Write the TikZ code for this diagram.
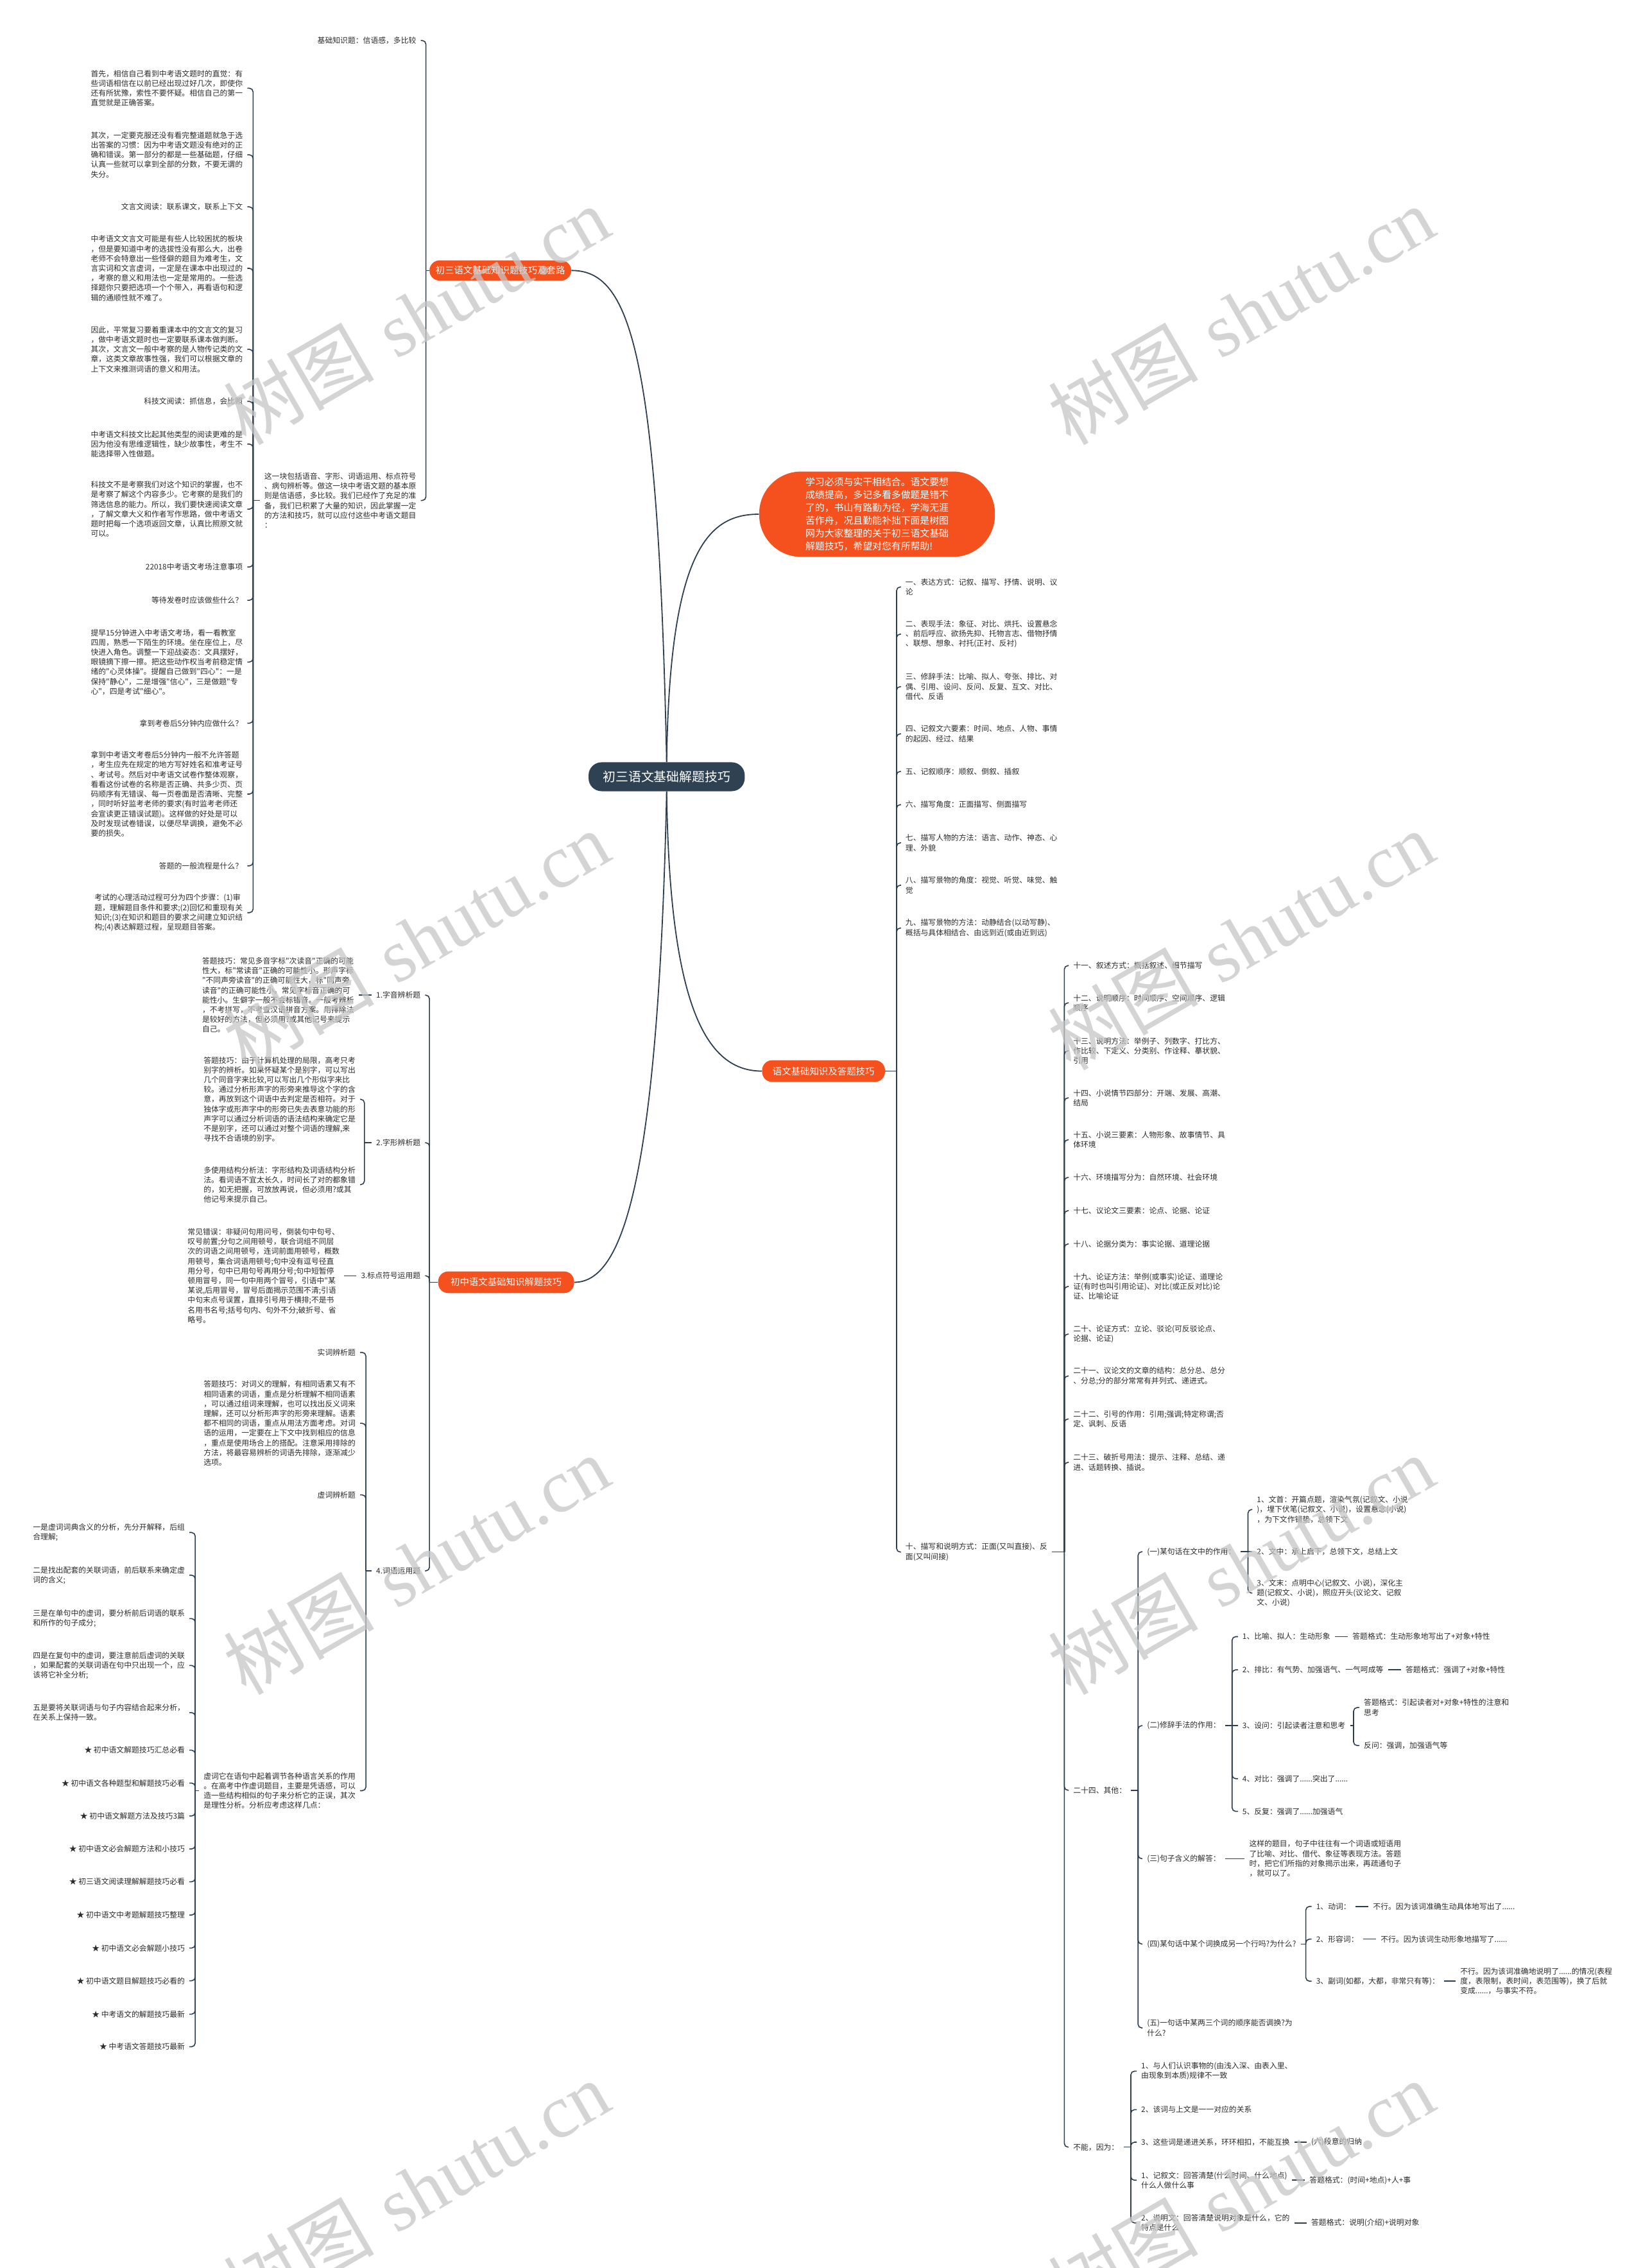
\documentclass[tikz,border=0pt]{standalone}
\usepackage{fontspec}
\newfontfamily\cjk{Noto Sans CJK SC}
\newfontfamily\wmserif{Liberation Serif}
\definecolor{lc}{HTML}{2C3E50}
\definecolor{tc}{HTML}{2B2B2B}
\definecolor{org}{HTML}{F4511E}
\definecolor{dk}{HTML}{2F4254}
\tikzset{
  tx/.style={inner xsep=3pt, inner ysep=0.5pt, text=tc, font=\cjk\fontsize{5.25}{6.75}\selectfont, align=left},
  L/.style={tx, anchor=east},
  R/.style={tx, anchor=west},
  conn/.style={draw=lc, line width=0.7pt, rounded corners=2.5pt},
  curve/.style={draw=lc, line width=0.8pt},
  br/.style={fill=org, text=white, rounded corners=7pt, font=\cjk\fontsize{6.4}{7.5}\selectfont, inner sep=0pt},
  wm/.style={text=gray!45, opacity=0.75, rotate=30, font=\fontsize{52}{52}\selectfont, inner sep=0pt},
}
\newcommand\brkL[2]{\foreach \ch in {#2}{\draw[conn] (#1) |- (\ch.east);}}
\newcommand\brkR[2]{\foreach \ch in {#2}{\draw[conn] (#1) |- (\ch.west);}}
\begin{document}
\begin{tikzpicture}[x=1pt,y=-1pt]
\fill[white] (0,0) rectangle (1136,1568);
\useasboundingbox (0,0) rectangle (1136,1568);

% ---------- main nodes ----------
\node[fill=dk, text=white, rounded corners=9pt, minimum width=108pt, minimum height=20pt, font=\cjk\fontsize{8.8}{10}\selectfont, inner sep=0pt] (main) at (461,537) {初三语文基础解题技巧};
\node[fill=org, text=white, rounded corners=29pt, minimum width=163pt, minimum height=59pt, font=\cjk\fontsize{6.6}{8.87}\selectfont, align=left, inner sep=0pt] (intro) at (606.5,355.5) {学习必须与实干相结合。语文要想\\成绩提高，多记多看多做题是错不\\了的，书山有路勤为径，学海无涯\\苦作舟，况且勤能补拙下面是树图\\网为大家整理的关于初三语文基础\\解题技巧，希望对您有所帮助!};
\node[br, minimum width=98pt, minimum height=14pt] (b1) at (346,187) {初三语文基础知识题技巧及套路};
\node[br, minimum width=85pt, minimum height=15pt] (b2) at (569.5,740.5) {语文基础知识及答题技巧};
\node[br, minimum width=94pt, minimum height=15pt] (b3) at (350,886.5) {初中语文基础知识解题技巧};

\draw[curve] (main.north) .. controls (455,240) and (435,187) .. (b1.east);
\draw[curve] (main.north) .. controls (463,380) and (490,355.5) .. (intro.west);
\draw[curve] (main.south) .. controls (463,700) and (490,740.5) .. (b2.west);
\draw[curve] (main.south) .. controls (455,820) and (430,886.5) .. (b3.east);

% ---------- branch 1 ----------
\node[L] (k0) at (291,28) {基础知识题：信语感，多比较};
\node[L] (p0) at (291,346) {这一块包括语音、字形、词语运用、标点符号\\、病句辨析等。做这一块中考语文题的基本原\\则是信语感，多比较。我们已经作了充足的准\\备，我们已积累了大量的知识，因此掌握一定\\的方法和技巧，就可以应付这些中考语文题目\\：};
\coordinate (bB) at (294.5,187);
\draw[conn] (b1.west) -- (bB);
\brkL{bB}{k0,p0}

\node[L] (a1) at (171,61) {首先，相信自己看到中考语文题时的直觉：有\\些词语相信在以前已经出现过好几次，即使你\\还有所犹豫，索性不要怀疑。相信自己的第一\\直觉就是正确答案。};
\node[L] (a2) at (171,107) {其次，一定要克服还没有看完整道题就急于选\\出答案的习惯：因为中考语文题没有绝对的正\\确和错误。第一部分的都是一些基础题，仔细\\认真一些就可以拿到全部的分数，不要无谓的\\失分。};
\node[L] (a3) at (171,143) {文言文阅读：联系课文，联系上下文};
\node[L] (a4) at (171,185.5) {中考语文文言文可能是有些人比较困扰的板块\\，但是要知道中考的选拔性没有那么大，出卷\\老师不会特意出一些怪僻的题目为难考生，文\\言实词和文言虚词，一定是在课本中出现过的\\，考察的意义和用法也一定是常用的。一些选\\择题你只要把选项一个个带入，再看语句和逻\\辑的通顺性就不难了。};
\node[L] (a5) at (171,241.5) {因此，平常复习要着重课本中的文言文的复习\\，做中考语文题时也一定要联系课本做判断。\\其次，文言文一般中考察的是人物传记类的文\\章，这类文章故事性强，我们可以根据文章的\\上下文来推测词语的意义和用法。};
\node[L] (a6) at (171,277.5) {科技文阅读：抓信息，会比照};
\node[L] (a7) at (171,307) {中考语文科技文比起其他类型的阅读更难的是\\因为他没有思维逻辑性，缺少故事性，考生不\\能选择带入性做题。};
\node[L] (a8) at (171,352) {科技文不是考察我们对这个知识的掌握，也不\\是考察了解这个内容多少。它考察的是我们的\\筛选信息的能力。所以，我们要快速阅读文章\\，了解文章大义和作者写作思路，做中考语文\\题时把每一个选项返回文章，认真比照原文就\\可以。};
\node[L] (a9) at (171,392) {22018中考语文考场注意事项};
\node[L] (a10) at (171,415) {等待发卷时应该做些什么？};
\node[L] (a11) at (171,457.7) {提早15分钟进入中考语文考场，看一看教室\\四周，熟悉一下陌生的环境。坐在座位上，尽\\快进入角色。调整一下迎战姿态：文具摆好，\\眼镜摘下擦一擦。把这些动作权当考前稳定情\\绪的"心灵体操"。提醒自己做到"四心"：一是\\保持"静心"，二是增强"信心"，三是做题"专\\心"，四是考试"细心"。};
\node[L] (a12) at (171,500) {拿到考卷后5分钟内应做什么？};
\node[L] (a13) at (171,549) {拿到中考语文考卷后5分钟内一般不允许答题\\，考生应先在规定的地方写好姓名和准考证号\\、考试号。然后对中考语文试卷作整体观察，\\看看这份试卷的名称是否正确、共多少页、页\\码顺序有无错误、每一页卷面是否清晰、完整\\，同时听好监考老师的要求(有时监考老师还\\会宣读更正错误试题)。这样做的好处是可以\\及时发现试卷错误，以便尽早调换，避免不必\\要的损失。};
\node[L] (a14) at (171,598.6) {答题的一般流程是什么？};
\node[L] (a15) at (171,631) {考试的心理活动过程可分为四个步骤：(1)审\\题，理解题目条件和要求;(2)回忆和重现有关\\知识;(3)在知识和题目的要求之间建立知识结\\构;(4)表达解题过程，呈现题目答案。};
\coordinate (bA) at (175,346);
\draw[conn] (p0.west) -- (bA);
\brkL{bA}{a1,a2,a3,a4,a5,a6,a7,a8,a9,a10,a11,a12,a13,a14,a15}

% ---------- branch 3 (left lower) ----------
\node[L] (c1) at (294,688) {1.字音辨析题};
\node[L] (c2) at (294,790) {2.字形辨析题};
\node[L] (c3) at (294,882) {3.标点符号运用题};
\node[L] (c4) at (294,1086) {4.词语运用题};
\coordinate (bC) at (297,886.5);
\draw[conn] (b3.west) -- (bC);
\brkL{bC}{c1,c2,c3,c4}

\node[L] (p1) at (248,688) {答题技巧：常见多音字标"次读音"正确的可能\\性大，标"常读音"正确的可能性小。形声字标\\"不同声旁读音"的正确可能性大，标"同声旁\\读音"的正确可能性小。常见字标音正确的可\\能性小。生僻字一般不会标错音。一般考辨析\\，不考拼写，不考查汉语拼音方案。用排除法\\是较好的方法，但必须用?或其他记号来提示\\自己。};
\draw[conn] (c1.west) -- (p1.east);

\node[L] (q1) at (249,760) {答题技巧：由于计算机处理的局限，高考只考\\别字的辨析。如果怀疑某个是别字，可以写出\\几个同音字来比较,可以写出几个形似字来比\\较。通过分析形声字的形旁来推导这个字的含\\意，再放到这个词语中去判定是否相符。对于\\独体字或形声字中的形旁已失去表意功能的形\\声字可以通过分析词语的语法结构来确定它是\\不是别字，还可以通过对整个词语的理解,来\\寻找不合语境的别字。};
\node[L] (q2) at (249,819) {多使用结构分析法：字形结构及词语结构分析\\法。看词语不宜太长久，时间长了对的都象错\\的，如无把握，可放放再说，但必须用?或其\\他记号来提示自己。};
\coordinate (bC2) at (252,790);
\draw[conn] (c2.west) -- (bC2);
\brkL{bC2}{q1,q2}

\node[L] (p3) at (238,882) {常见错误：非疑问句用问号，倒装句中句号、\\叹号前置;分句之间用顿号，联合词组不同层\\次的词语之间用顿号，连词前面用顿号，概数\\用顿号，集合词语用顿号;句中没有逗号径直\\用分号，句中已用句号再用分号;句中短暂停\\顿用冒号，同一句中用两个冒号，引语中"某\\某说,后用冒号，冒号后面揭示范围不清;引语\\中句末点号误置，直排引号用于横排;不是书\\名用书名号;括号句内、句外不分;破折号、省\\略号。};
\draw[conn] (c3.west) -- (p3.east);

\node[L] (d1) at (249,935) {实词辨析题};
\node[L] (d2) at (249,984) {答题技巧：对词义的理解，有相同语素又有不\\相同语素的词语，重点是分析理解不相同语素\\，可以通过组词来理解，也可以找出反义词来\\理解，还可以分析形声字的形旁来理解。语素\\都不相同的词语，重点从用法方面考虑。对词\\语的运用，一定要在上下文中找到相应的信息\\，重点是使用场合上的搭配。注意采用排除的\\方法，将最容易辨析的词语先排除，逐渐减少\\选项。};
\node[L] (d3) at (249,1033.5) {虚词辨析题};
\node[L] (d4) at (249,1238) {虚词它在语句中起着调节各种语言关系的作用\\。在高考中作虚词题目，主要是凭语感，可以\\造一些结构相似的句子来分析它的正误，其次\\是理性分析。分析应考虑这样几点：};
\coordinate (bC4) at (253,1086);
\draw[conn] (c4.west) -- (bC4);
\brkL{bC4}{d1,d2,d3,d4}

\node[L] (e1) at (131,1059.5) {一是虚词词典含义的分析，先分开解释，后组\\合理解;};
\node[L] (e2) at (131,1089) {二是找出配套的关联词语，前后联系来确定虚\\词的含义;};
\node[L] (e3) at (131,1119) {三是在单句中的虚词，要分析前后词语的联系\\和所作的句子成分;};
\node[L] (e4) at (131,1151.4) {四是在复句中的虚词，要注意前后虚词的关联\\，如果配套的关联词语在句中只出现一个，应\\该将它补全分析;};
\node[L] (e5) at (131,1184) {五是要将关联词语与句子内容结合起来分析，\\在关系上保持一致。};
\node[L] (s1) at (131,1210) {★ 初中语文解题技巧汇总必看};
\node[L] (s2) at (131,1232.7) {★ 初中语文各种题型和解题技巧必看};
\node[L] (s3) at (131,1255.5) {★ 初中语文解题方法及技巧3篇};
\node[L] (s4) at (131,1278.3) {★ 初中语文必会解题方法和小技巧};
\node[L] (s5) at (131,1301) {★ 初三语文阅读理解解题技巧必看};
\node[L] (s6) at (131,1324) {★ 初中语文中考题解题技巧整理};
\node[L] (s7) at (131,1346.8) {★ 初中语文必会解题小技巧};
\node[L] (s8) at (131,1369.4) {★ 初中语文题目解题技巧必看的};
\node[L] (s9) at (131,1392.5) {★ 中考语文的解题技巧最新};
\node[L] (s10) at (131,1415) {★ 中考语文答题技巧最新};
\coordinate (bD) at (135,1238);
\draw[conn] (d4.west) -- (bD);
\brkL{bD}{e1,e2,e3,e4,e5,s1,s2,s3,s4,s5,s6,s7,s8,s9,s10}

% ---------- branch 2 (right) ----------
\node[R] (r1) at (623,405.8) {一、表达方式：记叙、描写、抒情、说明、议\\论};
\node[R] (r2) at (623,438.4) {二、表现手法：象征、对比、烘托、设置悬念\\、前后呼应、欲扬先抑、托物言志、借物抒情\\、联想、想象、衬托(正衬、反衬)};
\node[R] (r3) at (623,474.7) {三、修辞手法：比喻、拟人、夸张、排比、对\\偶、引用、设问、反问、反复、互文、对比、\\借代、反语};
\node[R] (r4) at (623,507.3) {四、记叙文六要素：时间、地点、人物、事情\\的起因、经过、结果};
\node[R] (r5) at (623,533.3) {五、记叙顺序：顺叙、倒叙、插叙};
\node[R] (r6) at (623,556.3) {六、描写角度：正面描写、侧面描写};
\node[R] (r7) at (623,582.7) {七、描写人物的方法：语言、动作、神态、心\\理、外貌};
\node[R] (r8) at (623,612) {八、描写景物的角度：视觉、听觉、味觉、触\\觉};
\node[R] (r9) at (623,641.6) {九、描写景物的方法：动静结合(以动写静)、\\概括与具体相结合、由远到近(或由近到远)};
\node[R] (r10) at (623,1073) {十、描写和说明方式：正面(又叫直接)、反\\面(又叫间接)};
\coordinate (bR1) at (620,740.5);
\draw[conn] (b2.east) -- (bR1);
\brkR{bR1}{r1,r2,r3,r4,r5,r6,r7,r8,r9,r10}

\node[R] (t11) at (739,667.6) {十一、叙述方式：概括叙述、细节描写};
\node[R] (t12) at (739,693.3) {十二、说明顺序：时间顺序、空间顺序、逻辑\\顺序};
\node[R] (t13) at (739,726.5) {十三、说明方法：举例子、列数字、打比方、\\作比较、下定义、分类别、作诠释、摹状貌、\\引用};
\node[R] (t14) at (739,759) {十四、小说情节四部分：开端、发展、高潮、\\结局};
\node[R] (t15) at (739,788) {十五、小说三要素：人物形象、故事情节、具\\体环境};
\node[R] (t16) at (739,814) {十六、环境描写分为：自然环境、社会环境};
\node[R] (t17) at (739,837) {十七、议论文三要素：论点、论据、论证};
\node[R] (t18) at (739,860) {十八、论据分类为：事实论据、道理论据};
\node[R] (t19) at (739,889.4) {十九、论证方法：举例(或事实)论证、道理论\\证(有时也叫引用论证)、对比(或正反对比)论\\证、比喻论证};
\node[R] (t20) at (739,922.3) {二十、论证方式：立论、驳论(可反驳论点、\\论据、论证)};
\node[R] (t21) at (739,951.3) {二十一、议论文的文章的结构：总分总、总分\\、分总;分的部分常常有并列式、递进式。};
\node[R] (t22) at (739,981) {二十二、引号的作用：引用;强调;特定称谓;否\\定、讽刺、反语};
\node[R] (t23) at (739,1011) {二十三、破折号用法：提示、注释、总结、递\\进、话题转换、插说。};
\node[R] (t24) at (739,1237.7) {二十四、其他：};
\node[R] (t25) at (739,1484.4) {不能，因为：};
\coordinate (bR2) at (736,1073);
\draw[conn] (r10.east) -- (bR2);
\brkR{bR2}{t11,t12,t13,t14,t15,t16,t17,t18,t19,t20,t21,t22,t23,t24,t25}

\node[R] (u1) at (790,1072.8) {(一)某句话在文中的作用：};
\node[R] (u2) at (790,1193) {(二)修辞手法的作用：};
\node[R] (u3) at (790,1285) {(三)句子含义的解答：};
\node[R] (u4) at (790,1344) {(四)某句话中某个词换成另一个行吗?为什么?};
\node[R] (u5) at (790,1402) {(五)一句话中某两三个词的顺序能否调换?为\\什么?};
\coordinate (bR3) at (787,1237.7);
\draw[conn] (t24.east) -- (bR3);
\brkR{bR3}{u1,u2,u3,u4,u5}

\node[R] (f1) at (866,1043.6) {1、文首：开篇点题，渲染气氛(记叙文、小说\\)，埋下伏笔(记叙文、小说)，设置悬念(小说)\\，为下文作铺垫，总领下文};
\node[R] (f2) at (866,1072.8) {2、文中：承上启下，总领下文，总结上文};
\node[R] (f3) at (866,1101.4) {3、文末：点明中心(记叙文、小说)，深化主\\题(记叙文、小说)，照应开头(议论文、记叙\\文、小说)};
\coordinate (bR4) at (863,1072.8);
\draw[conn] (u1.east) -- (bR4);
\brkR{bR4}{f1,f3}
\draw[conn] (bR4) -- (f2.west);

\node[R] (g1) at (856,1131.5) {1、比喻、拟人：生动形象};
\node[R] (g2) at (856,1154.4) {2、排比：有气势、加强语气、一气呵成等};
\node[R] (g3) at (856,1193) {3、设问：引起读者注意和思考};
\node[R] (g4) at (856,1229.7) {4、对比：强调了......突出了......};
\node[R] (g5) at (856,1252.3) {5、反复：强调了......加强语气};
\coordinate (bR5) at (852,1193);
\draw[conn] (u2.east) -- (bR5);
\brkR{bR5}{g1,g2,g4,g5}
\draw[conn] (bR5) -- (g3.west);
\node[R] (h1) at ([xshift=9pt]g1.east) {答题格式：生动形象地写出了+对象+特性};
\draw[conn] (g1.east) -- (h1.west);
\node[R] (h2) at ([xshift=9pt]g2.east) {答题格式：强调了+对象+特性};
\draw[conn] (g2.east) -- (h2.west);
\node[R] (i1) at (940,1180.5) {答题格式：引起读者对+对象+特性的注意和\\思考};
\node[R] (i2) at (940,1206.8) {反问：强调，加强语气等};
\coordinate (bR6) at (936,1193);
\draw[conn] (g3.east) -- (bR6);
\brkR{bR6}{i1,i2}

\node[R] (j) at ([xshift=13.5pt]u3.east) {这样的题目，句子中往往有一个词语或短语用\\了比喻、对比、借代、象征等表现方法。答题\\时，把它们所指的对象揭示出来，再疏通句子\\，就可以了。};
\draw[conn] (u3.east) -- (j.west);

\node[R] (k1) at (907,1318) {1、动词：};
\node[R] (k2) at (907,1340.6) {2、形容词：};
\node[R] (k3) at (907,1369.7) {3、副词(如都，大都，非常只有等)：};
\coordinate (bR7) at (903,1344);
\draw[conn] (u4.east) -- (bR7);
\brkR{bR7}{k1,k2,k3}
\node[R] (l1) at ([xshift=9pt]k1.east) {不行。因为该词准确生动具体地写出了......};
\draw[conn] (k1.east) -- (l1.west);
\node[R] (l2) at ([xshift=9pt]k2.east) {不行。因为该词生动形象地描写了......};
\draw[conn] (k2.east) -- (l2.west);
\node[R] (l3) at ([xshift=8pt]k3.east) {不行。因为该词准确地说明了......的情况(表程\\度，表限制，表时间，表范围等)，换了后就\\变成......，与事实不符。};
\draw[conn] (k3.east) -- (l3.west);

\node[R] (m1) at (786,1431.9) {1、与人们认识事物的(由浅入深、由表入里、\\由现象到本质)规律不一致};
\node[R] (m2) at (786,1458.5) {2、该词与上文是一一对应的关系};
\node[R] (m3) at (786,1481) {3、这些词是递进关系，环环相扣，不能互换};
\node[R] (m4) at (786,1507.3) {1、记叙文：回答清楚(什么时间、什么地点)\\什么人做什么事};
\node[R] (m5) at (786,1536.8) {2、说明文：回答清楚说明对象是什么，它的\\特点是什么};
\coordinate (bR8) at (782,1484.4);
\draw[conn] (t25.east) -- (bR8);
\brkR{bR8}{m1,m2,m3,m4,m5}
\node[R] (n3) at ([xshift=8.5pt]m3.east) {(六)段意的归纳};
\draw[conn] (m3.east) -- (n3.west);
\node[R] (n4) at ([xshift=9pt]m4.east) {答题格式：(时间+地点)+人+事};
\draw[conn] (m4.east) -- (n4.west);
\node[R] (n5) at ([xshift=8.5pt]m5.east) {答题格式：说明(介绍)+说明对象};
\draw[conn] (m5.east) -- (n5.west);

% ---------- watermark ----------
\foreach \wx in {288,858}{
  \foreach \wy in {218,650,1082,1514}{
    \node[wm] at (\wx,\wy) {{\cjk 树图} {\wmserif shutu.cn}};
  }
}
\end{tikzpicture}
\end{document}
